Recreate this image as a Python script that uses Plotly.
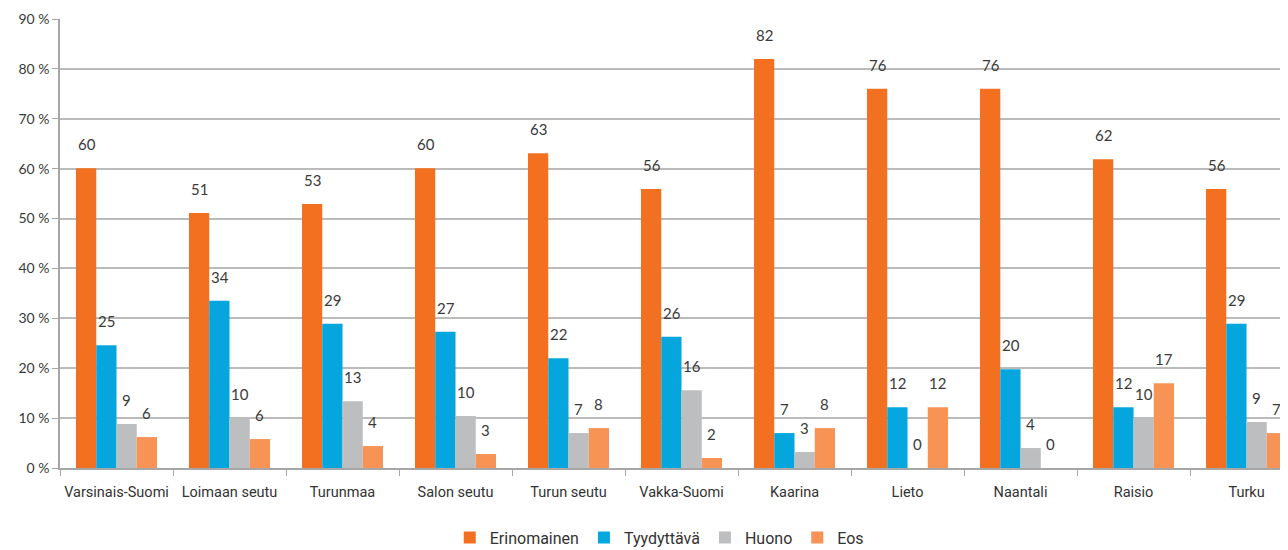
import plotly.graph_objects as go

# Regions and survey shares (%)
REGIONS = ['Varsinais-Suomi', 'Loimaan seutu', 'Turunmaa', 'Salon seutu', 'Turun seutu',
           'Vakka-Suomi', 'Kaarina', 'Lieto', 'Naantali', 'Raisio', 'Turku']

ERINOMAINEN = [60.1, 51.1, 52.9, 60.1, 63.1, 55.9, 82.0, 76.0, 76.0, 61.9, 55.9]
TYYDYTTAVA = [24.6, 33.5, 28.9, 27.3, 22.0, 26.3, 7.0, 12.2, 19.8, 12.2, 28.9]
HUONO = [8.8, 10.0, 13.4, 10.4, 7.0, 15.6, 3.2, 0.0, 4.0, 10.0, 9.2]
EOS = [6.2, 5.8, 4.4, 2.8, 8.0, 2.0, 8.0, 12.2, 0.0, 17.0, 7.0]

SERIES = [
    ('Erinomainen', ERINOMAINEN, '#F37021'),
    ('Tyydyttävä', TYYDYTTAVA, '#05A6DE'),
    ('Huono', HUONO, '#BDBEC0'),
    ('Eos', EOS, '#F69355'),
]

Y_TICKS = [0, 10, 20, 30, 40, 50, 60, 70, 80, 90]
Y_TICKTEXT = [f'{v} %' for v in Y_TICKS]

# pixel offsets of each bar centre from the category centre
LABEL_XSHIFT = [-30, -10, 10, 30]

fig = go.Figure()

for name, vals, color in SERIES:
    fig.add_trace(go.Bar(
        x=REGIONS, y=vals, name=name,
        marker=dict(color=color, line=dict(width=0)),
    ))

# value labels above bars
for (name, vals, color), dx in zip(SERIES, LABEL_XSHIFT):
    for reg, v in zip(REGIONS, vals):
        fig.add_annotation(
            x=reg, y=v, text=str(round(v)),
            showarrow=False, xshift=dx, yshift=13, yanchor='bottom',
            font=dict(family='Lato', size=15, color='#3a3a3a'),
        )

# page body has an 8px margin, so the figure is a bit smaller than the window
fig.update_layout(
    width=1280, height=542,
    margin=dict(l=52, r=0, t=11, b=82, autoexpand=False),
    plot_bgcolor='white', paper_bgcolor='white',
    barmode='group', bargap=0.283, bargroupgap=0,
    xaxis=dict(
        range=[-0.5, 10.367],
        showline=True, linecolor='#A6A6A6', linewidth=1.5,
        ticks='outside', tickson='boundaries', ticklen=6, tickcolor='#A6A6A6',
        showgrid=False, tickangle=0, automargin=False, ticklabelstandoff=10,
        tickfont=dict(family='Roboto', size=14.5, color='#333'),
    ),
    yaxis=dict(
        range=[0, 90], tickvals=Y_TICKS, ticktext=Y_TICKTEXT,
        showline=True, linecolor='#A6A6A6', linewidth=1.5,
        ticks='outside', ticklen=6, tickcolor='#A6A6A6',
        gridcolor='#BBBBBB', gridwidth=1.5, zeroline=False, automargin=False,
        tickfont=dict(family='Lato', size=14, color='#3a3a3a'),
    ),
    legend=dict(
        orientation='h', xanchor='center', x=0.488,
        yanchor='bottom', y=-0.193,
        font=dict(family='Roboto', size=16, color='#333'),
        itemwidth=30,
    ),
    showlegend=True,
)

fig.write_html("out.html")
